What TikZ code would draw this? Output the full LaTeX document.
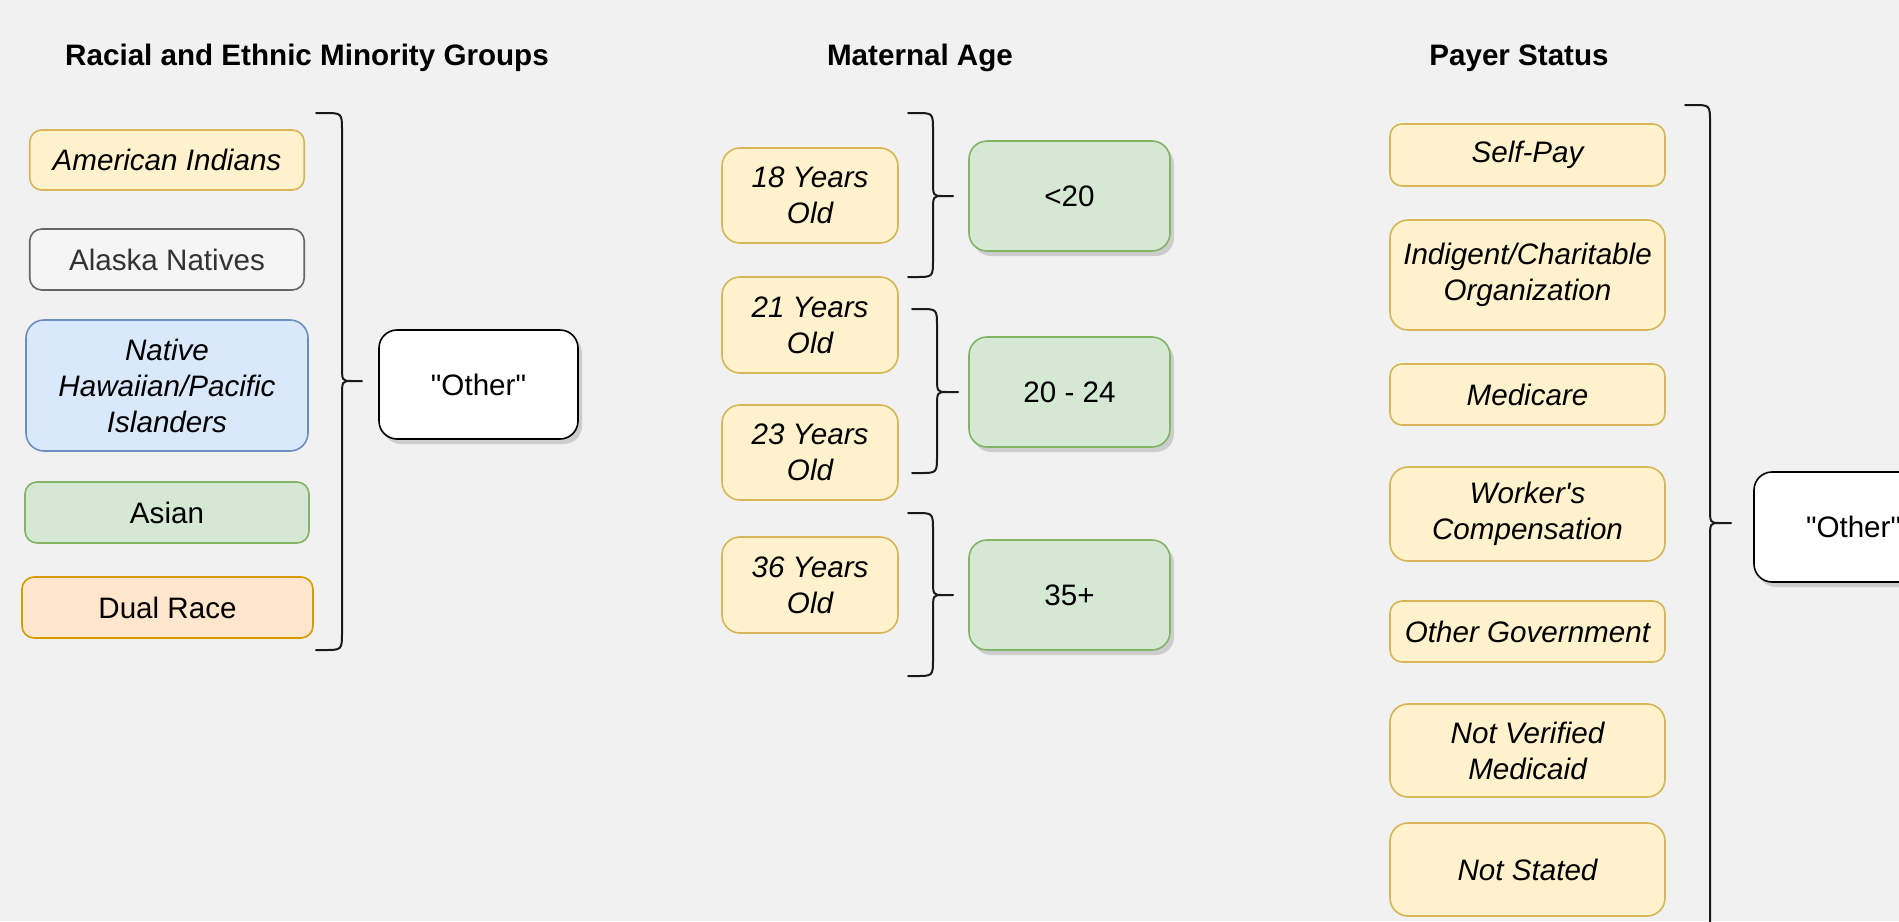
\documentclass[tikz,border=0pt]{standalone}
\usepackage{fontspec}
\setmainfont{Liberation Sans}[Ligatures=TeXOff]
\usetikzlibrary{shadows}
\definecolor{bg}{HTML}{F1F1F1}
\definecolor{yfill}{HTML}{FFF2CC}\definecolor{ydraw}{HTML}{D6B656}
\definecolor{gfill}{HTML}{F5F5F5}\definecolor{gdraw}{HTML}{666666}\definecolor{gtext}{HTML}{333333}
\definecolor{bfill}{HTML}{DAE8FC}\definecolor{bdraw}{HTML}{6C8EBF}
\definecolor{grfill}{HTML}{D5E8D4}\definecolor{grdraw}{HTML}{82B366}
\definecolor{ofill}{HTML}{FFE6CC}\definecolor{odraw}{HTML}{D79B00}
\definecolor{brc}{HTML}{1A1A1A}
\newcommand{\cbrace}[6]{%
  \draw[bracestyle] (#1,#4) -- ({#1+8},#4) .. controls (#2,#4) .. (#2,{#4+18}) -- (#2,{#5-16}) .. controls (#2,#5) .. ({#2+10},#5) -- (#3,#5);
  \draw[bracestyle] (#1,#6) -- ({#1+8},#6) .. controls (#2,#6) .. (#2,{#6-18}) -- (#2,{#5+16}) .. controls (#2,#5) .. ({#2+10},#5);
}
\begin{document}
\begin{tikzpicture}[x=0.5pt,y=-0.5pt,
  box/.style={rectangle, rounded corners=6pt, line width=0.8pt, inner sep=0pt, align=center,
    font=\fontsize{14.8}{18}\selectfont},
  tall/.style={rounded corners=9pt},
  sz/.style 2 args={minimum width={#1*0.5pt}, minimum height={#2*0.5pt}},
  ybox/.style={box, fill=yfill, draw=ydraw, font=\fontsize{14.8}{18}\selectfont\itshape},
  graybox/.style={box, fill=gfill, draw=gdraw, text=gtext},
  bbox/.style={box, fill=bfill, draw=bdraw, font=\fontsize{14.8}{18}\selectfont\itshape},
  grbox/.style={box, tall, fill=grfill, draw=grdraw,
    drop shadow={shadow xshift=2pt, shadow yshift=-2.5pt, fill=black, opacity=0.15}},
  obox/.style={box, fill=ofill, draw=odraw},
  wbox/.style={box, tall, fill=white, draw=black,
    drop shadow={shadow xshift=2pt, shadow yshift=-2.5pt, fill=black, opacity=0.15}},
  title/.style={inner sep=0pt, font=\bfseries\fontsize{14.8}{18}\selectfont},
  bracestyle/.style={draw=brc, line width=1pt, line cap=round, line join=round}
]
\useasboundingbox (0,0) rectangle (1899,921);
\fill[bg] (0,0) rectangle (1899,921);
\clip (0,0) rectangle (1899,921);

% titles
\node[title] (t1) at (307,58) {Racial and Ethnic Minority Groups};
\node[title] (t2) at (920,58) {Maternal Age};
\node[title] (t3) at (1519,58) {Payer Status};

% racial column
\node[ybox, sz={274.5}{60}] (ai) at (167,160) {American Indians};
\node[graybox, sz={274.5}{61}] (an) at (167,259.5) {Alaska Natives};
\node[bbox, tall, sz={282}{131}] (nh) at (167,385.5) {Native\\Hawaiian/Pacific\\Islanders};
\node[box, fill=grfill, draw=grdraw, sz={284}{61}] (as) at (167,512.5) {Asian};
\node[obox, sz={291}{61}] (dr) at (167.5,607.5) {Dual Race};
\node[wbox, sz={199}{109}] (o1) at (478.5,384.5) {"Other"};
\cbrace{316}{342}{362}{113}{381}{650}

% maternal age
\node[ybox, tall, sz={176}{95}] (a18) at (810,195.5) {18 Years\\Old};
\node[ybox, tall, sz={176}{96}] (a21) at (810,325) {21 Years\\Old};
\node[ybox, tall, sz={176}{95}] (a23) at (810,452.5) {23 Years\\Old};
\node[ybox, tall, sz={176}{96}] (a36) at (810,585) {36 Years\\Old};
\node[grbox, sz={201}{110}] (g1) at (1069.5,196) {<20};
\node[grbox, sz={201}{110}] (g2) at (1069.5,392) {20 - 24};
\node[grbox, sz={201}{110}] (g3) at (1069.5,595) {35+};
\cbrace{908}{933}{953}{113}{196}{277}
\cbrace{912}{937}{958}{309}{392}{473}
\cbrace{908}{933}{953}{513}{595}{676}

% payer status
\node[ybox, sz={275}{62}] (sp) at (1527.5,155) {Self-Pay};
\node[ybox, tall, sz={275}{110}] (ic) at (1527.5,275) {Indigent/Charitable\\Organization};
\node[ybox, sz={275}{61}] (mc) at (1527.5,394.5) {Medicare};
\node[ybox, tall, sz={275}{94}] (wc) at (1527.5,514) {Worker's\\Compensation};
\node[ybox, sz={275}{61}] (og) at (1527.5,631.5) {Other Government};
\node[ybox, tall, sz={275}{93}] (nv) at (1527.5,750.5) {Not Verified\\Medicaid};
\node[ybox, tall, sz={275}{93}] (ns) at (1527.5,869.5) {Not Stated};
\node[wbox, sz={199}{110}] (o3) at (1853.5,527) {"Other"};
\cbrace{1685}{1710}{1731}{105}{523}{1000}
\end{tikzpicture}
\end{document}
